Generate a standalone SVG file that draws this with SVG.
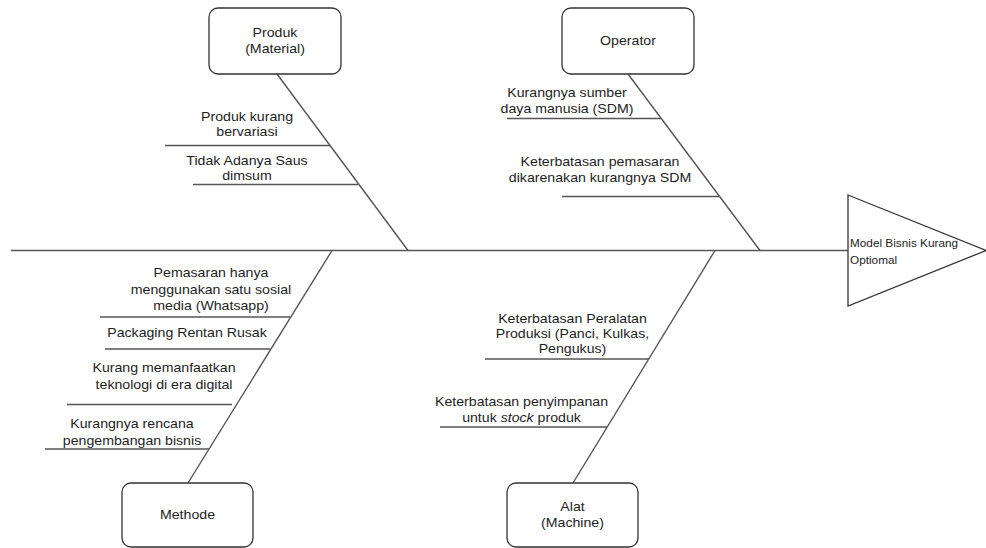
<svg xmlns="http://www.w3.org/2000/svg" width="986" height="548" viewBox="0 0 986 548">
  <style>
    .box { fill: #ffffff; stroke: #333333; stroke-width: 1.3; }
    .ln { stroke: #555555; stroke-width: 1.4; fill: none; }
    .t { font-family: "Liberation Sans", Arial, sans-serif; font-size: 12px; fill: #1e1e1e; text-anchor: middle; }
    .s { font-family: "Liberation Sans", Arial, sans-serif; font-size: 10px; fill: #1e1e1e; text-anchor: start; }
  </style>
  <rect width="986" height="548" fill="#ffffff"/>

  <g id="connectors">
    <line class="ln" x1="11" y1="250.5" x2="848" y2="250.5"/>
    <line class="ln" x1="277" y1="74" x2="408" y2="250.5"/>
    <line class="ln" x1="628" y1="74" x2="760" y2="250.5"/>
    <line class="ln" x1="332" y1="250.5" x2="188" y2="483"/>
    <line class="ln" x1="715" y1="250.5" x2="573" y2="483"/>
    <!-- cause lines -->
    <line class="ln" x1="165" y1="145.5" x2="330" y2="145.5"/>
    <line class="ln" x1="193" y1="184.5" x2="358" y2="184.5"/>
    <line class="ln" x1="507" y1="118.5" x2="661" y2="118.5"/>
    <line class="ln" x1="562" y1="196.5" x2="719" y2="196.5"/>
    <line class="ln" x1="100" y1="317" x2="290" y2="317"/>
    <line class="ln" x1="105" y1="349" x2="270" y2="349"/>
    <line class="ln" x1="67" y1="404.5" x2="232" y2="404.5"/>
    <line class="ln" x1="45" y1="449" x2="209" y2="449"/>
    <line class="ln" x1="485" y1="359" x2="649" y2="359"/>
    <line class="ln" x1="440" y1="427" x2="607" y2="427"/>
  </g>

  <g id="produk">
    <rect class="box" x="209" y="8" width="132" height="66" rx="9"/>
    <text class="t" transform="translate(275 0) scale(1.18 1)"><tspan x="0" y="37.5">Produk</tspan><tspan x="0" y="53.5">(Material)</tspan></text>
  </g>
  <g id="operator">
    <rect class="box" x="562" y="8" width="132" height="66" rx="9"/>
    <text class="t" transform="translate(628 0) scale(1.18 1)" x="0" y="45.5">Operator</text>
  </g>
  <g id="methode">
    <rect class="box" x="122" y="483" width="131" height="64" rx="9"/>
    <text class="t" transform="translate(187.5 0) scale(1.18 1)" x="0" y="519.5">Methode</text>
  </g>
  <g id="alat">
    <rect class="box" x="507" y="483" width="131" height="64" rx="9"/>
    <text class="t" transform="translate(572.5 0) scale(1.18 1)"><tspan x="0" y="511.5">Alat</tspan><tspan x="0" y="527.5">(Machine)</tspan></text>
  </g>
  <g id="effect">
    <polygon class="box" points="848,195 986,250.5 848,306"/>
    <text class="s" transform="translate(850 0) scale(1.18 1)"><tspan x="0" y="247">Model Bisnis Kurang</tspan><tspan x="0" y="264">Optiomal</tspan></text>
  </g>

  <g id="cause-produk-1">
    <text class="t" transform="translate(247 0) scale(1.18 1)"><tspan x="0" y="121">Produk kurang</tspan><tspan x="0" y="136">bervariasi</tspan></text>
  </g>
  <g id="cause-produk-2">
    <text class="t" transform="translate(247 0) scale(1.18 1)"><tspan x="0" y="165.5">Tidak Adanya Saus</tspan><tspan x="0" y="180.5">dimsum</tspan></text>
  </g>
  <g id="cause-operator-1">
    <text class="t" transform="translate(567 0) scale(1.18 1)"><tspan x="0" y="97">Kurangnya sumber</tspan><tspan x="0" y="113">daya manusia (SDM)</tspan></text>
  </g>
  <g id="cause-operator-2">
    <text class="t" transform="translate(600 0) scale(1.18 1)"><tspan x="0" y="166.5">Keterbatasan pemasaran</tspan><tspan x="0" y="182.5">dikarenakan kurangnya SDM</tspan></text>
  </g>
  <g id="cause-methode-1">
    <text class="t" transform="translate(211 0) scale(1.18 1)"><tspan x="0" y="277.5">Pemasaran hanya</tspan><tspan x="0" y="294">menggunakan satu sosial</tspan><tspan x="0" y="310.5">media (Whatsapp)</tspan></text>
  </g>
  <g id="cause-methode-2">
    <text class="t" transform="translate(187 0) scale(1.18 1)" x="0" y="337.5">Packaging Rentan Rusak</text>
  </g>
  <g id="cause-methode-3">
    <text class="t" transform="translate(164 0) scale(1.18 1)"><tspan x="0" y="372.5">Kurang memanfaatkan</tspan><tspan x="0" y="389">teknologi di era digital</tspan></text>
  </g>
  <g id="cause-methode-4">
    <text class="t" transform="translate(132 0) scale(1.18 1)"><tspan x="0" y="428">Kurangnya rencana</tspan><tspan x="0" y="445">pengembangan bisnis</tspan></text>
  </g>
  <g id="cause-alat-1">
    <text class="t" transform="translate(572.5 0) scale(1.18 1)"><tspan x="0" y="323">Keterbatasan Peralatan</tspan><tspan x="0" y="338">Produksi (Panci, Kulkas,</tspan><tspan x="0" y="353">Pengukus)</tspan></text>
  </g>
  <g id="cause-alat-2">
    <text class="t" transform="translate(521.5 0) scale(1.18 1)"><tspan x="0" y="406.5">Keterbatasan penyimpanan</tspan><tspan x="0" y="422.5">untuk <tspan font-style="italic">stock</tspan> produk</tspan></text>
  </g>
</svg>
